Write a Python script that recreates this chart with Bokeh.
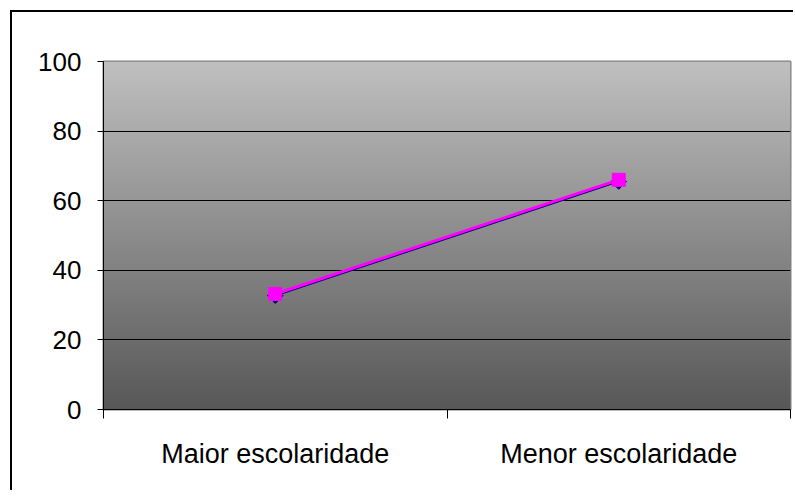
import numpy as np
from bokeh.plotting import figure
from bokeh.models import Range1d, FixedTicker
from bokeh.embed import file_html
from bokeh.resources import INLINE

categories = ["Maior escolaridade", "Menor escolaridade"]
series_navy = [32.7, 65.5]
series_magenta = [33.2, 66.0]
y_ticks = [0, 20, 40, 60, 80, 100]

xs = [i + 0.5 for i in range(len(categories))]

p = figure(width=783, height=480, output_backend="svg", toolbar_location=None,
           x_range=Range1d(0, len(categories)), y_range=Range1d(0, 100),
           min_border_left=91, min_border_top=49, min_border_right=5, min_border_bottom=83)
p.styles = {"border-left": "2px solid black", "border-top": "2px solid black",
            "margin-left": "10px", "margin-top": "10px"}

# gradient background
n = 256
g = np.linspace(88, 192, n).astype(np.uint32)
img = np.empty((n, 1), dtype=np.uint32)
view = img.view(dtype=np.uint8).reshape((n, 1, 4))
view[:, 0, 0] = g
view[:, 0, 1] = g
view[:, 0, 2] = g
view[:, 0, 3] = 255
p.image_rgba(image=[img], x=0, y=0, dw=len(categories), dh=100, level="image")

p.background_fill_color = "white"
p.border_fill_color = "white"
p.outline_line_color = "#808080"
p.outline_line_width = 2

p.xgrid.visible = False
p.ygrid.ticker = FixedTicker(ticks=y_ticks)
p.ygrid.grid_line_color = "black"
p.ygrid.grid_line_width = 1
p.ygrid.level = "underlay"

p.yaxis.ticker = FixedTicker(ticks=y_ticks)
p.yaxis.axis_line_color = "black"
p.yaxis.major_tick_line_color = "black"
p.yaxis.major_tick_out = 6
p.yaxis.major_tick_in = 0
p.yaxis.minor_tick_line_color = None
p.yaxis.major_label_text_font = "Liberation Sans"
p.yaxis.major_label_text_font_size = "26px"
p.yaxis.major_label_text_color = "black"
p.yaxis.major_label_standoff = 16

p.xaxis.ticker = FixedTicker(ticks=xs, minor_ticks=list(range(len(categories) + 1)))
p.xaxis.major_label_overrides = {x: c for x, c in zip(xs, categories)}
p.xaxis.axis_line_color = "black"
p.xaxis.major_tick_line_color = None
p.xaxis.major_tick_out = 0
p.xaxis.major_tick_in = 0
p.xaxis.minor_tick_line_color = "black"
p.xaxis.minor_tick_out = 9
p.xaxis.minor_tick_in = 0
p.xaxis.major_label_text_font = "Liberation Sans"
p.xaxis.major_label_text_font_size = "27px"
p.xaxis.major_label_text_color = "black"
p.xaxis.major_label_standoff = 20

p.line(xs, series_navy, line_color="#000080", line_width=1.5)
p.scatter(xs, series_navy, marker="square", angle=np.pi / 4, size=11,
          fill_color="#000080", line_color="#000080")
p.line(xs, series_magenta, line_color="#FF00FF", line_width=3)
p.scatter(xs, series_magenta, marker="square", size=13, fill_color="#FF00FF", line_color="#FF00FF")

open("out.html", "w").write(file_html(p, INLINE))
